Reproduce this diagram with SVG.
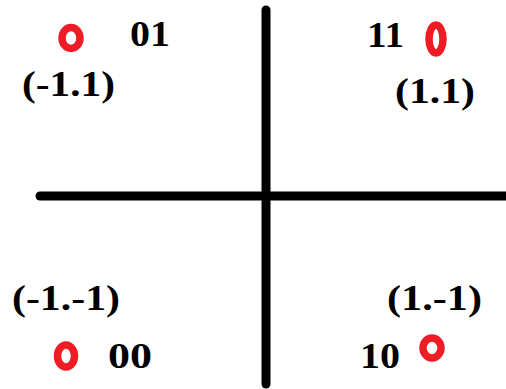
<svg xmlns="http://www.w3.org/2000/svg" width="506" height="389" viewBox="0 0 506 389">
<style>
.t{font-family:"Liberation Serif","Times New Roman",serif;font-weight:bold;font-size:36px;fill:#000}
.pt{fill:none;stroke:#ee1c25;stroke-width:7.5}
.ax{stroke:#000;stroke-width:9;stroke-linecap:round}
</style>
<rect width="506" height="389" fill="#fff"/>
<g id="axes">
<line class="ax" x1="40" y1="196" x2="506" y2="196"/>
<line class="ax" x1="266" y1="10" x2="266" y2="384"/>
</g>
<g id="p01">
<ellipse class="pt" cx="71" cy="38" rx="9" ry="10.5"/>
<text class="t" x="130" y="46" textLength="40" lengthAdjust="spacingAndGlyphs">01</text>
<text class="t" x="22" y="96" textLength="93" lengthAdjust="spacingAndGlyphs">(-1.1)</text>
</g>
<g id="p11">
<ellipse class="pt" cx="436" cy="39" rx="7" ry="14"/>
<text class="t" x="367" y="47" textLength="37" lengthAdjust="spacingAndGlyphs">11</text>
<text class="t" x="395" y="103" textLength="80" lengthAdjust="spacingAndGlyphs">(1.1)</text>
</g>
<g id="p00">
<ellipse class="pt" cx="66" cy="356" rx="8.5" ry="11"/>
<text class="t" x="108" y="368" textLength="44" lengthAdjust="spacingAndGlyphs">00</text>
<text class="t" x="12" y="310" textLength="108" lengthAdjust="spacingAndGlyphs">(-1.-1)</text>
</g>
<g id="p10">
<ellipse class="pt" cx="432" cy="348" rx="9" ry="10"/>
<text class="t" x="360" y="368" textLength="40" lengthAdjust="spacingAndGlyphs">10</text>
<text class="t" x="387" y="310" textLength="95" lengthAdjust="spacingAndGlyphs">(1.-1)</text>
</g>
</svg>
